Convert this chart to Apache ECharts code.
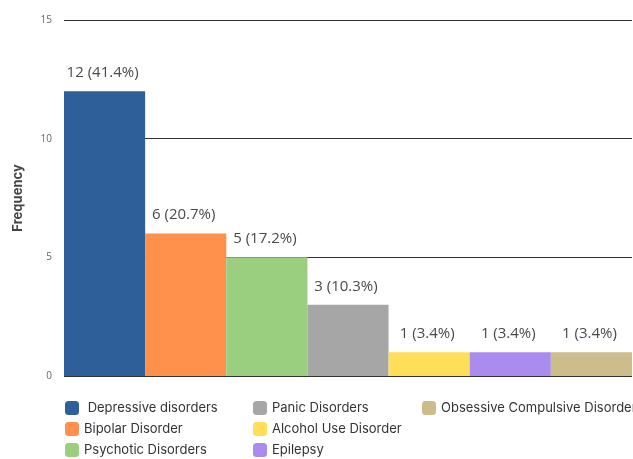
<!DOCTYPE html>
<html><head><meta charset="utf-8">
<script src="https://cdn.jsdelivr.net/npm/echarts@6/dist/echarts.min.js"></script>
<style>html,body{margin:0;padding:0;background:#fff}#c{width:633px;height:459px}</style>
</head><body><div id="c"></div>
<script>
const categories = ["Depressive disorders","Bipolar Disorder","Psychotic Disorders","Panic Disorders","Alcohol Use Disorder","Epilepsy","Obsessive Compulsive Disorder"];
const values = [12, 6, 5, 3, 1, 1, 1];
const percents = ["41.4%","20.7%","17.2%","10.3%","3.4%","3.4%","3.4%"];
const colors = ["#2e5f98","#ff914d","#99cf7f","#a6a6a6","#ffde59","#a98cee","#cdbc8c"];
const yTicks = [0, 5, 10, 15];

const series = categories.map((name, i) => ({
  name: name,
  type: 'bar',
  stack: 'all',
  barWidth: '100%',
  itemStyle: { color: colors[i] },
  label: {
    show: true, position: 'top', distance: 11, offset: [-2, 0],
    formatter: () => values[i] + ' (' + percents[i] + ')',
    fontFamily: 'Open Sans', fontSize: 15, color: '#4a4a4a'
  },
  data: categories.map((c, j) => j === i ? values[i] : '-')
}));

function legendCol(names, left) {
  return {
    orient: 'vertical', left: left, top: 401, height: 58, padding: 0, itemGap: 7,
    itemWidth: 14, itemHeight: 14, icon: 'roundRect',
    formatter: (n) => n === 'Depressive disorders' ? ' ' + n : n,
    textStyle: { fontFamily: 'Inter', fontSize: 13, color: '#333' },
    data: names
  };
}

const chart = echarts.init(document.getElementById('c'));
chart.setOption({
  animation: false,
  grid: { left: 64, right: 1, top: 20, bottom: 83 },
  xAxis: {
    type: 'category', data: categories,
    axisLine: { show: false }, axisTick: { show: false }, axisLabel: { show: false }
  },
  yAxis: {
    type: 'value', min: yTicks[0], max: yTicks[yTicks.length - 1], interval: 5,
    name: 'Frequency', nameLocation: 'middle', nameGap: 39,
    nameTextStyle: { fontFamily: 'Inter', fontSize: 13, fontWeight: 'bold', color: '#444' },
    axisLabel: { fontFamily: 'Open Sans', fontSize: 10, color: '#666', margin: 12 },
    splitLine: { lineStyle: { color: '#333', width: 1 } },
    axisLine: { show: false }, axisTick: { show: false }
  },
  legend: [
    legendCol(categories.slice(0, 3), 65),
    legendCol(categories.slice(3, 6), 253),
    legendCol(categories.slice(6, 7), 422)
  ],
  series: series
});
</script></body></html>
